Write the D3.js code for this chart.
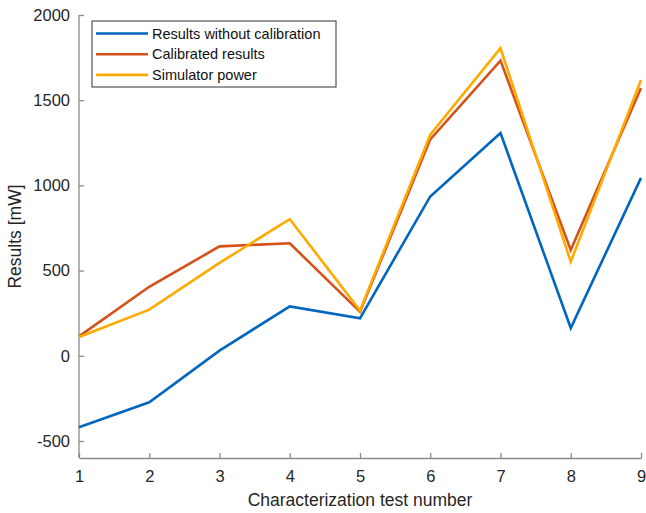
<!DOCTYPE html>
<html>
<head>
<meta charset="utf-8">
<script src="https://cdn.jsdelivr.net/npm/d3@7"></script>
<style>
  body { margin: 0; background: #fff; }
  text { font-family: "Liberation Sans", Arial, sans-serif; fill: #262626; }
</style>
</head>
<body>
<div class="d3Chart"></div>
<script>
// 數據
var tests = [1, 2, 3, 4, 5, 6, 7, 8, 9];
var withoutCal = [-420, -273, 30, 290, 220, 935, 1307, 163, 1044];
var calibrated = [114, 405, 642, 660, 258, 1270, 1732, 620, 1572];
var simulator = [110, 271, 545, 802, 265, 1297, 1805, 552, 1618];
var yTicks = [-500, 0, 500, 1000, 1500, 2000];
var seriesNames = ["Results without calibration", "Calibrated results", "Simulator power"];
var seriesColors = ["#0066C0", "#D4521A", "#FFAA00"];

var width = 646;
var height = 513;
var margin = { top: 15, right: 5, bottom: 55, left: 79 };

var svg = d3
  .select(".d3Chart")
  .append("svg")
  .attr("width", width)
  .attr("height", height);

// 比例尺
var x = d3.scaleLinear().domain([1, 9]).range([margin.left, width - margin.right]);
var y = d3.scaleLinear().domain([-600, 2000]).range([height - margin.bottom, margin.top]);

// 刻度文字用普通連字號
var plainFormat = (d) => String(d);

// x 軸
var xAxis = svg
  .append("g")
  .attr("transform", `translate(0, ${height - margin.bottom})`)
  .call(d3.axisBottom(x).tickValues(tests).tickFormat(plainFormat).tickSizeInner(-5).tickSizeOuter(0).tickPadding(12));

// y 軸
var yAxis = svg
  .append("g")
  .attr("transform", `translate(${margin.left}, 0)`)
  .call(d3.axisLeft(y).tickValues(yTicks).tickFormat(plainFormat).tickSizeInner(-5).tickSizeOuter(0).tickPadding(9));

[xAxis, yAxis].forEach(function (a) {
  a.select(".domain").attr("stroke", "#8a8a8a").attr("stroke-width", 1.3);
  a.selectAll(".tick line").attr("stroke", "#8a8a8a").attr("stroke-width", 1.3);
  a.selectAll(".tick text").attr("font-size", 16.5).attr("fill", "#262626");
});
// y 軸從 -600 到 2000
yAxis.select(".domain").attr("d", `M0,${y(-600)}V${y(2000)}`);

// 軸標題
svg
  .append("text")
  .attr("x", (margin.left + width - margin.right) / 2)
  .attr("y", 506)
  .attr("text-anchor", "middle")
  .attr("font-size", 17.5)
  .text("Characterization test number");

svg
  .append("text")
  .attr("transform", `translate(21, ${(margin.top + height - margin.bottom) / 2}) rotate(-90)`)
  .attr("text-anchor", "middle")
  .attr("font-size", 17.5)
  .text("Results [mW]");

// 線
var allSeries = [withoutCal, calibrated, simulator];
var line = d3
  .line()
  .x((d, i) => x(tests[i]))
  .y((d) => y(d));

svg
  .append("g")
  .selectAll("path")
  .data(allSeries)
  .enter()
  .append("path")
  .attr("fill", "none")
  .attr("stroke", (d, i) => seriesColors[i])
  .attr("stroke-width", 2.6)
  .attr("stroke-linejoin", "miter")
  .attr("d", line);

// 圖例
var legend = svg.append("g").attr("transform", "translate(92, 21)");
legend
  .append("rect")
  .attr("width", 244)
  .attr("height", 66)
  .attr("fill", "#fff")
  .attr("stroke", "#333")
  .attr("stroke-width", 1);

var items = legend
  .selectAll(".item")
  .data(seriesNames)
  .enter()
  .append("g")
  .attr("transform", (d, i) => `translate(0, ${12.5 + i * 20.7})`);

items
  .append("line")
  .attr("x1", 4)
  .attr("x2", 56)
  .attr("stroke", (d, i) => seriesColors[i])
  .attr("stroke-width", 2.6);

items
  .append("text")
  .attr("x", 60)
  .attr("dy", "0.35em")
  .attr("font-size", 14.5)
  .style("fill", "#111")
  .text((d) => d);
</script>
</body>
</html>
